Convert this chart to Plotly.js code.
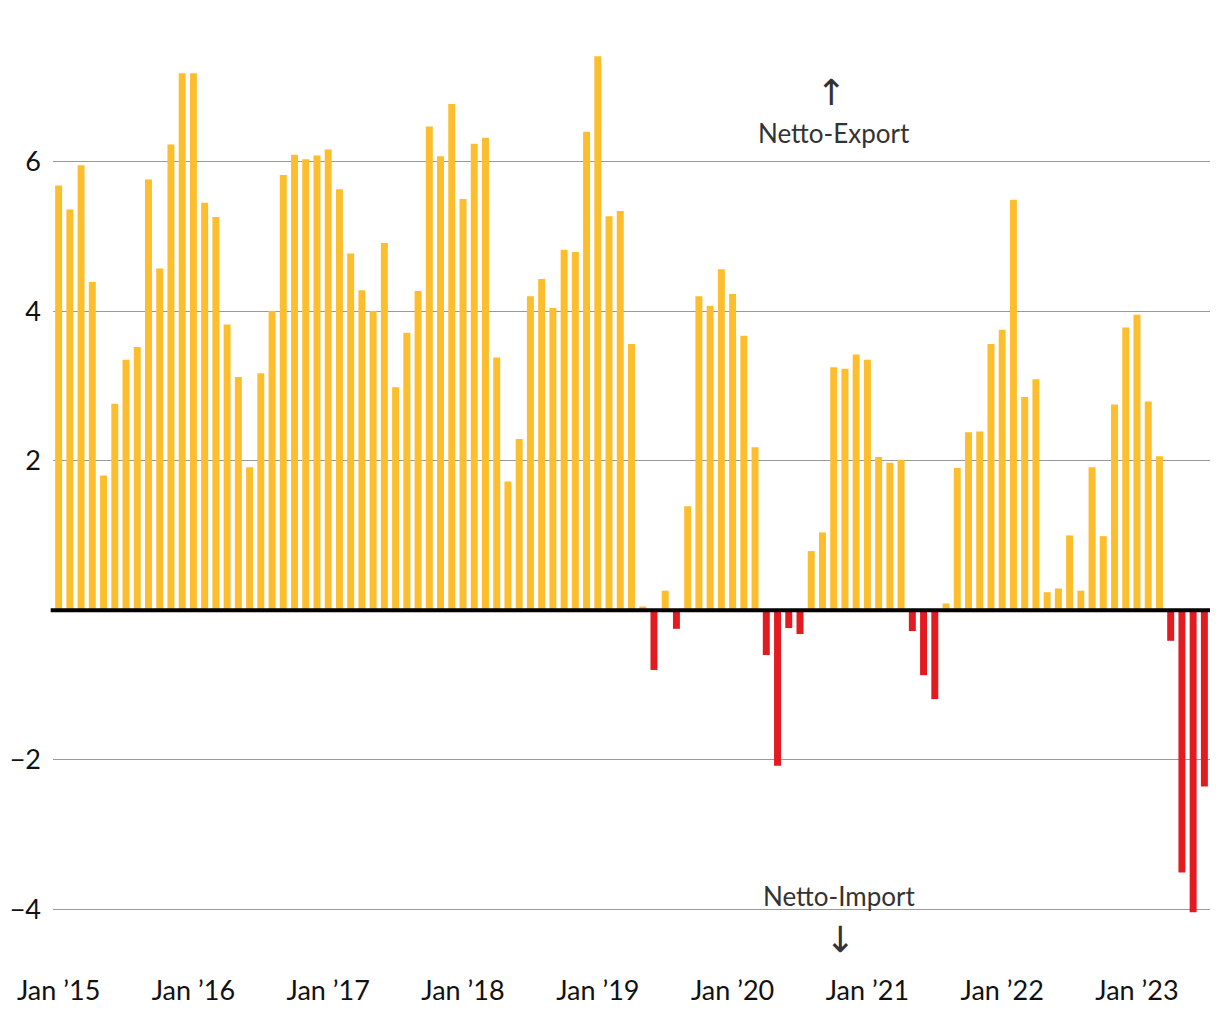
<!DOCTYPE html>
<html>
<head>
<meta charset="utf-8">
<script src="https://cdn.plot.ly/plotly-3.0.1.min.js"></script>
<style>
  html, body { margin: 0; padding: 0; background: #fff; }
  #chart { width: 1220px; height: 1020px; }
</style>
</head>
<body>
<div id="chart"></div>
<script>
// Monthly values, Jan 2015 – Jul 2023
const months2015 = ["2015-01","2015-02","2015-03","2015-04","2015-05","2015-06","2015-07","2015-08","2015-09","2015-10","2015-11","2015-12"];
const months2016 = ["2016-01","2016-02","2016-03","2016-04","2016-05","2016-06","2016-07","2016-08","2016-09","2016-10","2016-11","2016-12"];
const months2017 = ["2017-01","2017-02","2017-03","2017-04","2017-05","2017-06","2017-07","2017-08","2017-09","2017-10","2017-11","2017-12"];
const months2018 = ["2018-01","2018-02","2018-03","2018-04","2018-05","2018-06","2018-07","2018-08","2018-09","2018-10","2018-11","2018-12"];
const months2019 = ["2019-01","2019-02","2019-03","2019-04","2019-05","2019-06","2019-07","2019-08","2019-09","2019-10","2019-11","2019-12"];
const months2020 = ["2020-01","2020-02","2020-03","2020-04","2020-05","2020-06","2020-07","2020-08","2020-09","2020-10","2020-11","2020-12"];
const months2021 = ["2021-01","2021-02","2021-03","2021-04","2021-05","2021-06","2021-07","2021-08","2021-09","2021-10","2021-11","2021-12"];
const months2022 = ["2022-01","2022-02","2022-03","2022-04","2022-05","2022-06","2022-07","2022-08","2022-09","2022-10","2022-11","2022-12"];
const months2023 = ["2023-01","2023-02","2023-03","2023-04","2023-05","2023-06","2023-07"];

const values2015 = [5.68, 5.36, 5.95, 4.39, 1.80, 2.76, 3.35, 3.52, 5.76, 4.57, 6.23, 7.18];
const values2016 = [7.18, 5.45, 5.26, 3.82, 3.12, 1.91, 3.17, 4.00, 5.82, 6.09, 6.03, 6.08];
const values2017 = [6.16, 5.63, 4.77, 4.28, 4.00, 4.91, 2.98, 3.71, 4.27, 6.47, 6.07, 6.77];
const values2018 = [5.50, 6.24, 6.32, 3.38, 1.72, 2.29, 4.20, 4.43, 4.04, 4.82, 4.79, 6.40];
const values2019 = [7.41, 5.27, 5.34, 3.56, 0.05, -0.80, 0.26, -0.25, 1.39, 4.20, 4.07, 4.56];
const values2020 = [4.23, 3.67, 2.18, -0.60, -2.08, -0.24, -0.32, 0.79, 1.04, 3.25, 3.23, 3.42];
const values2021 = [3.35, 2.05, 1.97, 2.01, -0.28, -0.87, -1.19, 0.09, 1.90, 2.38, 2.39, 3.56];
const values2022 = [3.75, 5.49, 2.85, 3.09, 0.24, 0.29, 1.00, 0.26, 1.91, 0.99, 2.75, 3.78];
const values2023 = [3.95, 2.79, 2.06, -0.41, -3.51, -4.04, -2.36];

const tickMonths = ["2015-01","2016-01","2017-01","2018-01","2019-01","2020-01","2021-01","2022-01","2023-01"];
const tickLabels = ["Jan ’15","Jan ’16","Jan ’17","Jan ’18","Jan ’19","Jan ’20","Jan ’21","Jan ’22","Jan ’23"];
const yTickVals = [-4, -2, 2, 4, 6];
const yTickText = ["−4", "−2", "2", "4", "6"];

const exportLabel = "Netto-Export";
const importLabel = "Netto-Import";

const COLOR_POS = "#FDBE2E";
const COLOR_NEG = "#E31B20";
const FONT = "Lato, 'Source Sans Pro', 'Noto Sans', sans-serif";

const months = [].concat(months2015, months2016, months2017, months2018, months2019,
                         months2020, months2021, months2022, months2023);
const values = [].concat(values2015, values2016, values2017, values2018, values2019,
                         values2020, values2021, values2022, values2023);
const colors = values.map(v => v < 0 ? COLOR_NEG : COLOR_POS);

const trace = {
  type: "bar",
  x: months,
  y: values,
  marker: { color: colors, line: { width: 0 } },
  hoverinfo: "x+y"
};

const layout = {
  width: 1220,
  height: 1020,
  margin: { l: 53, r: 10, t: 27, b: 51 },
  paper_bgcolor: "#ffffff",
  plot_bgcolor: "#ffffff",
  bargap: 0.38,
  showlegend: false,
  font: { family: FONT, size: 26, color: "#111111" },
  xaxis: {
    type: "category",
    tickmode: "array",
    tickvals: tickMonths,
    ticktext: tickLabels,
    showgrid: false,
    showline: false,
    ticks: "",
    ticklabelstandoff: 3,
    tickfont: { family: FONT, size: 27, color: "#111111" },
    fixedrange: true
  },
  yaxis: {
    range: [-4.8, 7.8],
    tickmode: "array",
    tickvals: yTickVals,
    ticktext: yTickText,
    showgrid: true,
    gridcolor: "#9a9a9a",
    gridwidth: 1,
    zeroline: false,
    showline: false,
    ticks: "",
    ticklabelstandoff: 11,
    tickfont: { family: FONT, size: 27, color: "#111111" },
    fixedrange: true
  },
  shapes: [
    { type: "line", xref: "paper", yref: "y", x0: -0.002, x1: 1, y0: 0, y1: 0,
      line: { color: "#000000", width: 4 }, layer: "above" }
  ],
  annotations: [
    { xref: "paper", yref: "y", x: 0.672, y: 6.92, text: "↑", showarrow: false,
      font: { family: "'DejaVu Sans', sans-serif", size: 36, color: "#333333" }, xanchor: "center", yanchor: "middle" },
    { xref: "paper", yref: "y", x: 0.675, y: 6.38, text: exportLabel, showarrow: false,
      font: { family: FONT, size: 26, color: "#333333" }, xanchor: "center", yanchor: "middle" },
    { xref: "paper", yref: "y", x: 0.679, y: -3.83, text: importLabel, showarrow: false,
      font: { family: FONT, size: 26, color: "#333333" }, xanchor: "center", yanchor: "middle" },
    { xref: "paper", yref: "y", x: 0.680, y: -4.40, text: "↓", showarrow: false,
      font: { family: "'DejaVu Sans', sans-serif", size: 36, color: "#333333" }, xanchor: "center", yanchor: "middle" }
  ]
};

Plotly.newPlot("chart", [trace], layout, { displayModeBar: false, staticPlot: true });
</script>
</body>
</html>
